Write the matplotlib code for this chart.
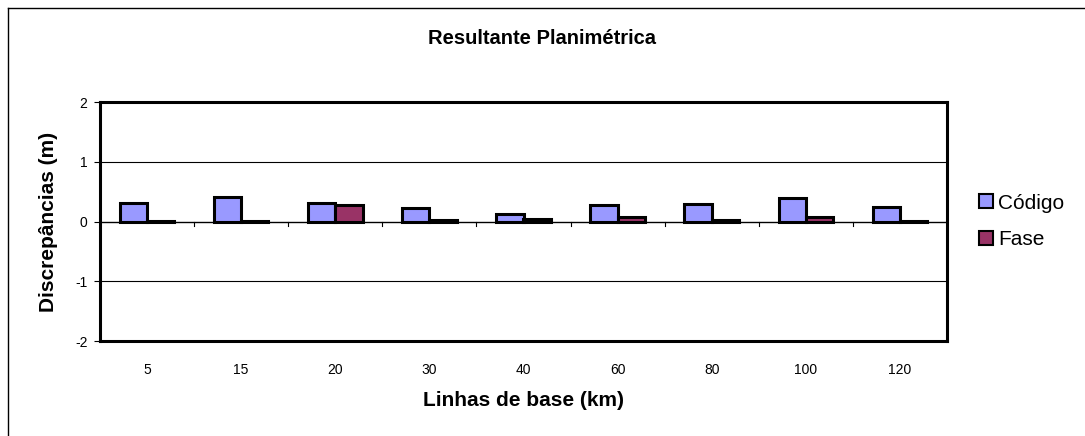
import numpy as np
import matplotlib.pyplot as plt
from matplotlib.lines import Line2D

plt.rcParams['font.family'] = ['Liberation Sans', 'DejaVu Sans']

linhas = ['5', '15', '20', '30', '40', '60', '80', '100', '120']
codigo = [0.31, 0.41, 0.31, 0.23, 0.13, 0.28, 0.29, 0.39, 0.24]
fase = [0.01, 0.01, 0.27, 0.03, 0.05, 0.07, 0.03, 0.07, 0.01]

fig = plt.figure(figsize=(10.85, 4.36), dpi=100)
ax = fig.add_axes([100/1085, 1 - 341/436, 847/1085, 239/436])

x = np.arange(len(linhas))
w = 0.29
ax.bar(x - w/2, codigo, w, color='#9999ff', edgecolor='black', linewidth=2.2,
       label='Código', zorder=3)
ax.bar(x + w/2, fase, w, color='#993366', edgecolor='black', linewidth=2.2,
       label='Fase', zorder=3)

ax.set_xlim(-0.5, len(linhas) - 0.5)
ax.set_ylim(-2, 2)
ax.set_yticks([-2, -1, 0, 1, 2])
ax.set_yticklabels(['-2', '-1', '0', '1', '2'], fontsize=10)
ax.set_xticks(x)
ax.set_xticklabels(linhas, fontsize=10)
ax.tick_params(axis='x', length=0, pad=16)
ax.tick_params(axis='y', length=4, width=0.8, direction='out', pad=5)

# gridlines and the zero line with category separators
for yv in [-1, 1]:
    ax.axhline(yv, color='black', linewidth=0.8, zorder=1)
ax.axhline(0, color='black', linewidth=1.0, zorder=2)
for xs in np.arange(0.5, len(linhas) - 0.5, 1):
    ax.plot([xs, xs], [0, -0.07], color='black', linewidth=0.8, zorder=2)

for s in ax.spines.values():
    s.set_linewidth(2.2)

ax.set_xlabel('Linhas de base (km)', fontsize=15, fontweight='bold', labelpad=10)
ax.set_ylabel('Discrepâncias (m)', fontsize=15, fontweight='bold', labelpad=12)
fig.text(0.5, 1 - 38/436, 'Resultante Planimétrica', ha='center', va='center',
         fontsize=14.5, fontweight='bold')

leg = ax.legend(loc='center left', bbox_to_anchor=(1.028, 0.5), frameon=False,
                fontsize=15, handlelength=0.65, handleheight=0.65,
                handletextpad=0.25, labelspacing=0.85, borderaxespad=0)
for h in leg.legend_handles:
    h.set_linewidth(1.5)

# chart area border (left and top)
fig.add_artist(Line2D([8/1085, 8/1085], [0, 1 - 8/436], color='black', linewidth=1))
fig.add_artist(Line2D([8/1085, 1], [1 - 8/436, 1 - 8/436], color='black', linewidth=1))

fig.savefig('out.png', dpi=100)
